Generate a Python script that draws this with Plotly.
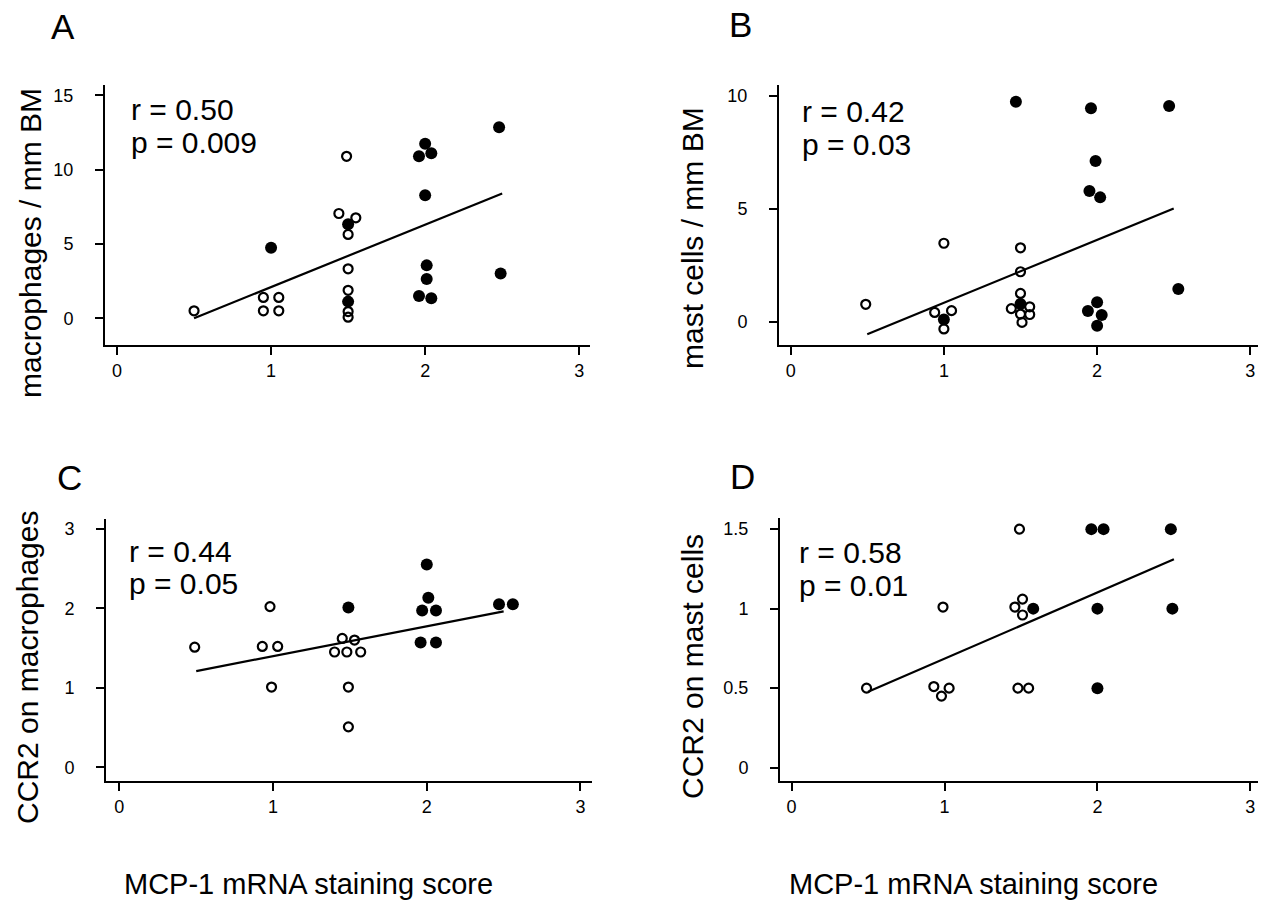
import plotly.graph_objects as go

W, H = 1264, 902
FONT = "Liberation Sans, Arial, Helvetica, sans-serif"

# ---------------- Data ----------------
# Panel A: macrophages / mm BM
a_open_x = [0.5, 0.95, 1.05, 0.95, 1.05, 1.49, 1.44, 1.55, 1.5, 1.5, 1.5, 1.5, 1.5]
a_open_y = [0.5, 1.4, 1.4, 0.5, 0.5, 10.9, 7.05, 6.76, 5.64, 3.33, 1.88, 0.45, 0.07]
a_fill_x = [1.0, 1.5, 1.5, 2.0, 1.96, 2.04, 2.0, 2.01, 2.01, 1.96, 2.04, 2.48, 2.49]
a_fill_y = [4.74, 6.33, 1.12, 11.74, 10.9, 11.1, 8.28, 3.56, 2.64, 1.5, 1.34, 12.86, 3.02]
a_fit_x = [0.5, 2.5]
a_fit_y = [0.0, 8.4]

# Panel B: mast cells / mm BM
b_open_x = [0.49, 0.94, 1.05, 1.0, 1.0, 1.5, 1.5, 1.5, 1.44, 1.56, 1.5, 1.56, 1.51]
b_open_y = [0.77, 0.41, 0.49, -0.32, 3.47, 3.27, 2.21, 1.25, 0.58, 0.66, 0.34, 0.32, -0.03]
b_fill_x = [1.0, 1.5, 1.47, 1.96, 2.47, 1.99, 1.95, 2.02, 2.53, 2.0, 1.94, 2.03, 2.0]
b_fill_y = [0.1, 0.78, 9.73, 9.44, 9.54, 7.11, 5.78, 5.5, 1.45, 0.86, 0.47, 0.3, -0.18]
b_fit_x = [0.5, 2.5]
b_fit_y = [-0.55, 5.01]

# Panel C: CCR2 on macrophages
c_open_x = [0.49, 0.98, 0.93, 1.03, 0.99, 1.45, 1.53, 1.4, 1.48, 1.57, 1.49, 1.49]
c_open_y = [1.51, 2.02, 1.52, 1.52, 1.01, 1.62, 1.6, 1.45, 1.45, 1.45, 1.01, 0.51]
c_fill_x = [1.49, 2.0, 2.01, 1.97, 2.06, 1.96, 2.06, 2.47, 2.56]
c_fill_y = [2.01, 2.55, 2.13, 1.97, 1.97, 1.57, 1.57, 2.05, 2.05]
c_fit_x = [0.5, 2.5]
c_fit_y = [1.21, 1.96]

# Panel D: CCR2 on mast cells
d_open_x = [0.49, 0.99, 0.93, 1.03, 0.98, 1.49, 1.46, 1.51, 1.51, 1.48, 1.55]
d_open_y = [0.5, 1.01, 0.51, 0.5, 0.45, 1.5, 1.01, 1.06, 0.96, 0.5, 0.5]
d_fill_x = [1.58, 1.96, 2.04, 2.48, 2.0, 2.49, 2.0]
d_fill_y = [1.0, 1.5, 1.5, 1.5, 1.0, 1.0, 0.5]
d_fit_x = [0.5, 2.5]
d_fit_y = [0.477, 1.31]

x_ticks = [0, 1, 2, 3]
a_yticks = [0, 5, 10, 15]
b_yticks = [0, 5, 10]
c_yticks = [0, 1, 2, 3]
d_yticks = [0, 0.5, 1, 1.5]
d_yticklabels = ["0", "0.5", "1", "1.5"]

panel_letters = ["A", "B", "C", "D"]
stats_r = ["r = 0.50", "r = 0.42", "r = 0.44", "r = 0.58"]
stats_p = ["p = 0.009", "p = 0.03", "p = 0.05", "p = 0.01"]
y_titles = ["macrophages / mm BM", "mast cells / mm BM", "CCR2 on macrophages", "CCR2 on mast cells"]
x_title = "MCP-1 mRNA staining score"

# ---------------- Layout helpers ----------------
def px2fx(px):
    return px / W

def px2fy(py):
    return 1 - py / H

panels = [
    dict(data=(a_open_x, a_open_y, a_fill_x, a_fill_y, a_fit_x, a_fit_y),
         box=(105, 590, 85, 345), xr=[-0.078, 3.07], yr=[-1.8, 15.7],
         yt=a_yticks, ytl=[str(v) for v in a_yticks]),
    dict(data=(b_open_x, b_open_y, b_fill_x, b_fill_y, b_fit_x, b_fit_y),
         box=(779, 1258, 85, 345), xr=[-0.076, 3.05], yr=[-1.03, 10.47],
         yt=b_yticks, ytl=[str(v) for v in b_yticks]),
    dict(data=(c_open_x, c_open_y, c_fill_x, c_fill_y, c_fit_x, c_fit_y),
         box=(106, 592, 519, 781), xr=[-0.087, 3.075], yr=[-0.17, 3.12],
         yt=c_yticks, ytl=[str(v) for v in c_yticks]),
    dict(data=(d_open_x, d_open_y, d_fill_x, d_fill_y, d_fit_x, d_fit_y),
         box=(780, 1258, 518, 781), xr=[-0.076, 3.05], yr=[-0.084, 1.57],
         yt=d_yticks, ytl=d_yticklabels),
]

fig = go.Figure()
layout = dict(
    width=W, height=H, margin=dict(l=0, r=0, t=0, b=0),
    paper_bgcolor="white", plot_bgcolor="white", showlegend=False,
    font=dict(family=FONT, color="black"),
)

annotations = []
for i, p in enumerate(panels):
    xa = "x" if i == 0 else f"x{i+1}"
    ya = "y" if i == 0 else f"y{i+1}"
    ox, oy, fx, fy, lx, ly = p["data"]
    fig.add_trace(go.Scatter(x=lx, y=ly, mode="lines", xaxis=xa, yaxis=ya,
                             line=dict(color="black", width=2.2), hoverinfo="skip"))
    fig.add_trace(go.Scatter(x=fx, y=fy, mode="markers", xaxis=xa, yaxis=ya,
                             marker=dict(symbol="circle", size=12, color="black",
                                         line=dict(width=0))))
    fig.add_trace(go.Scatter(x=ox, y=oy, mode="markers", xaxis=xa, yaxis=ya,
                             marker=dict(symbol="circle-open", size=9, color="black",
                                         line=dict(width=2.2, color="black"))))
    x0, x1, y0, y1 = p["box"]
    common = dict(showline=True, linecolor="black", linewidth=2, showgrid=False,
                  zeroline=False, ticks="outside", ticklen=8, tickwidth=2,
                  tickcolor="black", tickfont=dict(size=18, family=FONT, color="black"))
    layout["xaxis" if i == 0 else f"xaxis{i+1}"] = dict(
        domain=[px2fx(x0), px2fx(x1)], range=p["xr"], anchor=ya,
        tickmode="array", tickvals=x_ticks, ticktext=[str(v) for v in x_ticks],
        ticklabelstandoff=0, **common)
    layout["yaxis" if i == 0 else f"yaxis{i+1}"] = dict(
        domain=[px2fy(y1), px2fy(y0)], range=p["yr"], anchor=xa,
        tickmode="array", tickvals=p["yt"], ticktext=p["ytl"],
        ticklabelstandoff=18, **common)

# Text positions (pixels)
letter_pos = [(63, 27), (740, 25), (69, 477), (742, 476)]
r_pos = [(129, 109), (800, 112), (127, 551), (797, 552)]
p_pos = [(129, 142), (800, 144), (127, 583), (797, 585)]
ytitle_pos = [(30, 243), (692, 238), (27, 667), (692, 667)]
xtitle_pos = [(308, 884), (973, 884)]

for i in range(4):
    lx_, ly_ = letter_pos[i]
    annotations.append(dict(text=panel_letters[i], x=px2fx(lx_), y=px2fy(ly_), xref="paper", yref="paper",
                            showarrow=False, xanchor="center", yanchor="middle",
                            font=dict(size=35, family=FONT, color="black")))
    rx, ry = r_pos[i]
    annotations.append(dict(text=stats_r[i], x=px2fx(rx), y=px2fy(ry), xref="paper", yref="paper",
                            showarrow=False, xanchor="left", yanchor="middle",
                            font=dict(size=30, family=FONT, color="black")))
    qx, qy = p_pos[i]
    annotations.append(dict(text=stats_p[i], x=px2fx(qx), y=px2fy(qy), xref="paper", yref="paper",
                            showarrow=False, xanchor="left", yanchor="middle",
                            font=dict(size=30, family=FONT, color="black")))
    tx, ty = ytitle_pos[i]
    annotations.append(dict(text=y_titles[i], x=px2fx(tx), y=px2fy(ty), xref="paper", yref="paper",
                            showarrow=False, xanchor="center", yanchor="middle", textangle=-90,
                            font=dict(size=30, family=FONT, color="black")))
for (tx, ty) in xtitle_pos:
    annotations.append(dict(text=x_title, x=px2fx(tx), y=px2fy(ty), xref="paper", yref="paper",
                            showarrow=False, xanchor="center", yanchor="middle",
                            font=dict(size=29, family=FONT, color="black")))

layout["annotations"] = annotations
fig.update_layout(**layout)
fig.write_html("out.html",
               config={"displayModeBar": False},
               post_script="document.body.style.margin='0px';document.body.style.padding='0px';document.body.style.overflow='hidden';")
